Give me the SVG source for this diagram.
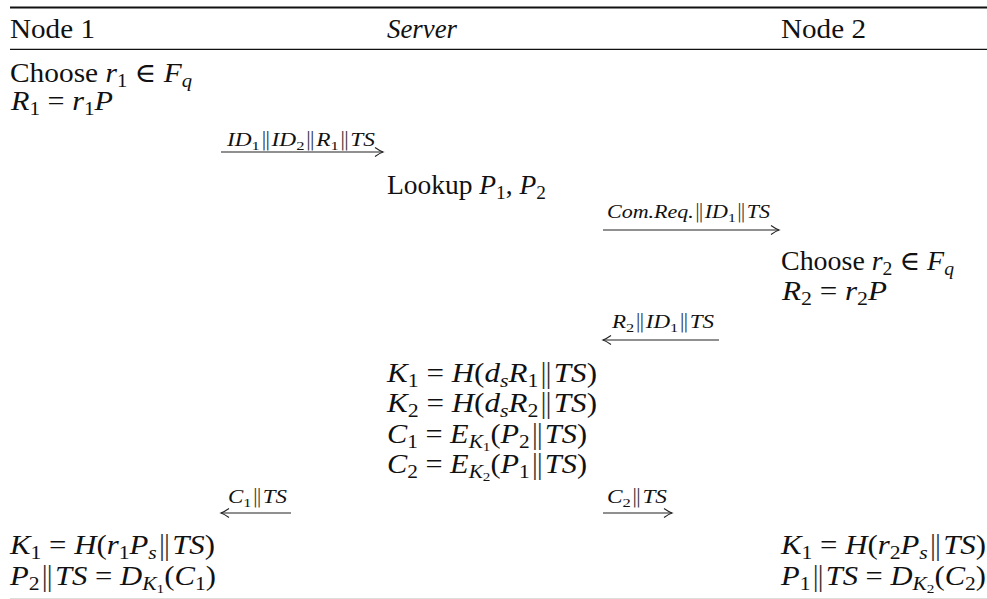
<svg xmlns="http://www.w3.org/2000/svg" width="987" height="599" viewBox="0 0 987 599">
<style>
.t{font-family:"Liberation Serif","DejaVu Serif",serif;font-size:27px;fill:#111}
.l{font-family:"Liberation Serif","DejaVu Serif",serif;font-size:19px;fill:#111}
.i{font-style:italic}
.sb{font-size:19px}
.ss{font-size:13.5px}
.dv{font-family:"DejaVu Sans",sans-serif;font-style:normal;font-weight:200;fill:#333}
.rule{stroke:#111;fill:none}
.arr{stroke:#222;stroke-width:1.1;fill:none;marker-end:url(#ah)}
</style>
<defs>
<marker id="ah" markerUnits="userSpaceOnUse" markerWidth="12" markerHeight="12" refX="9" refY="5" orient="auto">
<path d="M1,0.5 Q6,4 9,5 Q6,6 1,9.5" stroke="#222" stroke-width="1.1" fill="none"/>
</marker>
</defs>
<rect width="987" height="599" fill="#fff"/>
<g id="rules">
<line class="rule" x1="10" y1="7.5" x2="987" y2="7.5" stroke-width="2"/>
<line class="rule" x1="10" y1="49.3" x2="987" y2="49.3" stroke-width="1.3"/>
<line x1="10" y1="598.5" x2="987" y2="598.5" stroke="#ddd" stroke-width="1"/>
</g>
<g id="header">
<text class="t" x="10" y="38" textLength="85" lengthAdjust="spacingAndGlyphs">Node 1</text>
<text class="t i" x="387" y="38" textLength="70" lengthAdjust="spacingAndGlyphs">Server</text>
<text class="t" x="781" y="38" textLength="85" lengthAdjust="spacingAndGlyphs">Node 2</text>
</g>
<g id="node1-choose">
<text class="t" x="10" y="82" textLength="182" lengthAdjust="spacingAndGlyphs">Choose <tspan class="i">r</tspan><tspan class="sb" dy="5">1</tspan><tspan dy="-5"> ∈ </tspan><tspan class="i">F</tspan><tspan class="i sb" dy="5">q</tspan></text>
<text class="t" x="11" y="110" textLength="102" lengthAdjust="spacingAndGlyphs"><tspan class="i">R</tspan><tspan class="sb" dy="5">1</tspan><tspan dy="-5"> = </tspan><tspan class="i">r</tspan><tspan class="sb" dy="5">1</tspan><tspan class="i" dy="-5">P</tspan></text>
</g>
<g id="server-lookup">
<text class="t" x="387" y="194" textLength="159" lengthAdjust="spacingAndGlyphs">Lookup <tspan class="i">P</tspan><tspan class="sb" dy="5">1</tspan><tspan dy="-5">, </tspan><tspan class="i">P</tspan><tspan class="sb" dy="5">2</tspan></text>
</g>
<g id="node2-choose">
<text class="t" x="781" y="270" textLength="173" lengthAdjust="spacingAndGlyphs">Choose <tspan class="i">r</tspan><tspan class="sb" dy="5">2</tspan><tspan dy="-5"> ∈ </tspan><tspan class="i">F</tspan><tspan class="i sb" dy="5">q</tspan></text>
<text class="t" x="782" y="300" textLength="105" lengthAdjust="spacingAndGlyphs"><tspan class="i">R</tspan><tspan class="sb" dy="5">2</tspan><tspan dy="-5"> = </tspan><tspan class="i">r</tspan><tspan class="sb" dy="5">2</tspan><tspan class="i" dy="-5">P</tspan></text>
</g>
<g id="server-keys">
<text class="t" x="387" y="382" textLength="210" lengthAdjust="spacingAndGlyphs"><tspan class="i">K</tspan><tspan class="sb" dy="5">1</tspan><tspan dy="-5"> = </tspan><tspan class="i">H</tspan>(<tspan class="i">d</tspan><tspan class="i sb" dy="5">s</tspan><tspan class="i" dy="-5">R</tspan><tspan class="sb" dy="5">1</tspan><tspan class="dv" dy="-5">‖</tspan><tspan class="i">TS</tspan>)</text>
<text class="t" x="387" y="412" textLength="210" lengthAdjust="spacingAndGlyphs"><tspan class="i">K</tspan><tspan class="sb" dy="5">2</tspan><tspan dy="-5"> = </tspan><tspan class="i">H</tspan>(<tspan class="i">d</tspan><tspan class="i sb" dy="5">s</tspan><tspan class="i" dy="-5">R</tspan><tspan class="sb" dy="5">2</tspan><tspan class="dv" dy="-5">‖</tspan><tspan class="i">TS</tspan>)</text>
<text class="t" x="387" y="443" textLength="200" lengthAdjust="spacingAndGlyphs"><tspan class="i">C</tspan><tspan class="sb" dy="5">1</tspan><tspan dy="-5"> = </tspan><tspan class="i">E</tspan><tspan class="i sb" dy="5">K</tspan><tspan class="ss" dy="3">1</tspan><tspan dy="-8">(</tspan><tspan class="i">P</tspan><tspan class="sb" dy="5">2</tspan><tspan class="dv" dy="-5">‖</tspan><tspan class="i">TS</tspan>)</text>
<text class="t" x="387" y="473" textLength="200" lengthAdjust="spacingAndGlyphs"><tspan class="i">C</tspan><tspan class="sb" dy="5">2</tspan><tspan dy="-5"> = </tspan><tspan class="i">E</tspan><tspan class="i sb" dy="5">K</tspan><tspan class="ss" dy="3">2</tspan><tspan dy="-8">(</tspan><tspan class="i">P</tspan><tspan class="sb" dy="5">1</tspan><tspan class="dv" dy="-5">‖</tspan><tspan class="i">TS</tspan>)</text>
</g>
<g id="node1-final">
<text class="t" x="10" y="554" textLength="205" lengthAdjust="spacingAndGlyphs"><tspan class="i">K</tspan><tspan class="sb" dy="5">1</tspan><tspan dy="-5"> = </tspan><tspan class="i">H</tspan>(<tspan class="i">r</tspan><tspan class="sb" dy="5">1</tspan><tspan class="i" dy="-5">P</tspan><tspan class="i sb" dy="5">s</tspan><tspan class="dv" dy="-5">‖</tspan><tspan class="i">TS</tspan>)</text>
<text class="t" x="10" y="585" textLength="206" lengthAdjust="spacingAndGlyphs"><tspan class="i">P</tspan><tspan class="sb" dy="5">2</tspan><tspan class="dv" dy="-5">‖</tspan><tspan class="i">TS</tspan> = <tspan class="i">D</tspan><tspan class="i sb" dy="5">K</tspan><tspan class="ss" dy="3">1</tspan><tspan dy="-8">(</tspan><tspan class="i">C</tspan><tspan class="sb" dy="5">1</tspan><tspan dy="-5">)</tspan></text>
</g>
<g id="node2-final">
<text class="t" x="781" y="554" textLength="205" lengthAdjust="spacingAndGlyphs"><tspan class="i">K</tspan><tspan class="sb" dy="5">1</tspan><tspan dy="-5"> = </tspan><tspan class="i">H</tspan>(<tspan class="i">r</tspan><tspan class="sb" dy="5">2</tspan><tspan class="i" dy="-5">P</tspan><tspan class="i sb" dy="5">s</tspan><tspan class="dv" dy="-5">‖</tspan><tspan class="i">TS</tspan>)</text>
<text class="t" x="781" y="585" textLength="205" lengthAdjust="spacingAndGlyphs"><tspan class="i">P</tspan><tspan class="sb" dy="5">1</tspan><tspan class="dv" dy="-5">‖</tspan><tspan class="i">TS</tspan> = <tspan class="i">D</tspan><tspan class="i sb" dy="5">K</tspan><tspan class="ss" dy="3">2</tspan><tspan dy="-8">(</tspan><tspan class="i">C</tspan><tspan class="sb" dy="5">2</tspan><tspan dy="-5">)</tspan></text>
</g>
<g id="connectors">
<line class="arr" x1="221" y1="152" x2="383" y2="152"/>
<line class="arr" x1="603" y1="230" x2="779" y2="230"/>
<line class="arr" x1="719" y1="340" x2="603" y2="340"/>
<line class="arr" x1="291" y1="513" x2="221" y2="513"/>
<line class="arr" x1="603" y1="513" x2="672" y2="513"/>
<text class="l" x="227" y="146" textLength="148" lengthAdjust="spacingAndGlyphs"><tspan class="i">ID</tspan><tspan class="ss" dy="3.5">1</tspan><tspan class="dv" dy="-3.5">‖</tspan><tspan class="i">ID</tspan><tspan class="ss" dy="3.5">2</tspan><tspan class="dv" dy="-3.5">‖</tspan><tspan class="i">R</tspan><tspan class="ss" dy="3.5">1</tspan><tspan class="dv" dy="-3.5">‖</tspan><tspan class="i">TS</tspan></text>
<text class="l" x="607" y="218" textLength="163" lengthAdjust="spacingAndGlyphs"><tspan class="i">Com.Req.</tspan><tspan class="dv">‖</tspan><tspan class="i">ID</tspan><tspan class="ss" dy="3.5">1</tspan><tspan class="dv" dy="-3.5">‖</tspan><tspan class="i">TS</tspan></text>
<text class="l" x="612" y="328" textLength="102" lengthAdjust="spacingAndGlyphs"><tspan class="i">R</tspan><tspan class="ss" dy="3.5">2</tspan><tspan class="dv" dy="-3.5">‖</tspan><tspan class="i">ID</tspan><tspan class="ss" dy="3.5">1</tspan><tspan class="dv" dy="-3.5">‖</tspan><tspan class="i">TS</tspan></text>
<text class="l" x="228" y="503" textLength="59" lengthAdjust="spacingAndGlyphs"><tspan class="i">C</tspan><tspan class="ss" dy="3.5">1</tspan><tspan class="dv" dy="-3.5">‖</tspan><tspan class="i">TS</tspan></text>
<text class="l" x="607" y="503" textLength="60" lengthAdjust="spacingAndGlyphs"><tspan class="i">C</tspan><tspan class="ss" dy="3.5">2</tspan><tspan class="dv" dy="-3.5">‖</tspan><tspan class="i">TS</tspan></text>
</g>
</svg>
